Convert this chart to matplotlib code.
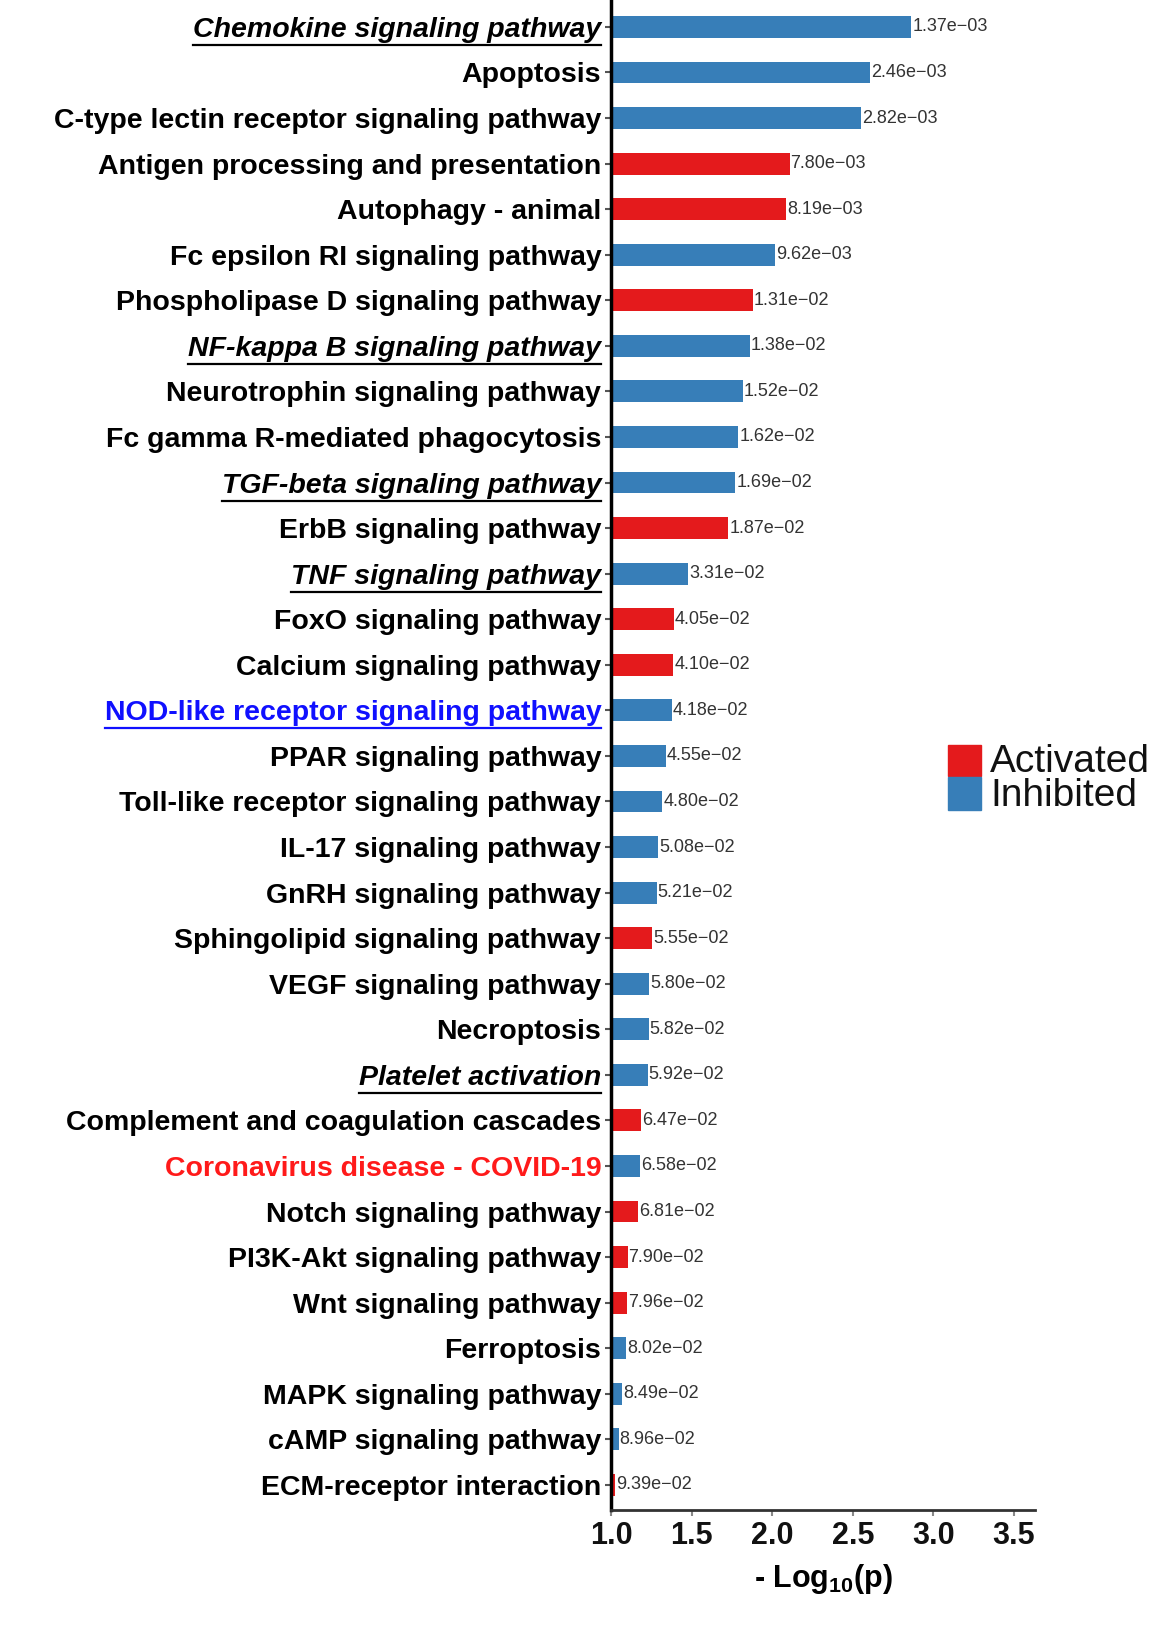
import numpy as np
import matplotlib
matplotlib.use("Agg")
import matplotlib.pyplot as plt
from matplotlib.patches import Rectangle
from matplotlib.lines import Line2D

# données (de haut en bas)
pathways = [
    "Chemokine signaling pathway", "Apoptosis",
    "C-type lectin receptor signaling pathway",
    "Antigen processing and presentation", "Autophagy - animal",
    "Fc epsilon RI signaling pathway", "Phospholipase D signaling pathway",
    "NF-kappa B signaling pathway", "Neurotrophin signaling pathway",
    "Fc gamma R-mediated phagocytosis", "TGF-beta signaling pathway",
    "ErbB signaling pathway", "TNF signaling pathway",
    "FoxO signaling pathway", "Calcium signaling pathway",
    "NOD-like receptor signaling pathway", "PPAR signaling pathway",
    "Toll-like receptor signaling pathway", "IL-17 signaling pathway",
    "GnRH signaling pathway", "Sphingolipid signaling pathway",
    "VEGF signaling pathway", "Necroptosis", "Platelet activation",
    "Complement and coagulation cascades", "Coronavirus disease - COVID-19",
    "Notch signaling pathway", "PI3K-Akt signaling pathway",
    "Wnt signaling pathway", "Ferroptosis", "MAPK signaling pathway",
    "cAMP signaling pathway", "ECM-receptor interaction",
]
pvals = [1.37e-03, 2.46e-03, 2.82e-03, 7.80e-03, 8.19e-03, 9.62e-03,
         1.31e-02, 1.38e-02, 1.52e-02, 1.62e-02, 1.69e-02, 1.87e-02,
         3.31e-02, 4.05e-02, 4.10e-02, 4.18e-02, 4.55e-02, 4.80e-02,
         5.08e-02, 5.21e-02, 5.55e-02, 5.80e-02, 5.82e-02, 5.92e-02,
         6.47e-02, 6.58e-02, 6.81e-02, 7.90e-02, 7.96e-02, 8.02e-02,
         8.49e-02, 8.96e-02, 9.39e-02]
# A = activé, I = inhibé
status = ["I", "I", "I", "A", "A", "I", "A", "I", "I", "I", "I", "A",
          "I", "A", "A", "I", "I", "I", "I", "I", "A", "I", "I", "I",
          "A", "I", "A", "A", "A", "I", "I", "I", "A"]
# libellés mis en avant (italique souligné)
highlighted = ["Chemokine signaling pathway", "NF-kappa B signaling pathway",
               "TGF-beta signaling pathway", "TNF signaling pathway",
               "Platelet activation"]

RED = "#E41A1C"
BLUE = "#377EB8"
sans = ["Liberation Sans", "DejaVu Sans"]

W, H = 1172, 1626
fig = plt.figure(figsize=(W / 100, H / 100), dpi=100)
ax = fig.add_axes([611 / W, 1 - 1510 / H, (1035 - 611) / W, 1510 / H])

neglog = -np.log10(np.array(pvals))
y = np.arange(len(pathways))
colors = [RED if s == "A" else BLUE for s in status]

ax.barh(y, neglog - 1.0, left=1.0, height=0.48, color=colors)
for yi, v, p in zip(y, neglog, pvals):
    ax.text(v + 0.005, yi, f"{p:.2e}".replace("-", "\u2212"), ha="left",
            va="center", fontsize=13, color="#333333", family=sans)

ax.set_xlim(1.0, 3.63)
ax.set_ylim(len(pathways) - 0.45, -0.59)
ax.set_xticks([1.0, 1.5, 2.0, 2.5, 3.0, 3.5])
ax.set_xticklabels(["1.0", "1.5", "2.0", "2.5", "3.0", "3.5"],
                   fontsize=22, fontweight="bold", family=sans, color="#111111")
ax.set_yticks(y)
ax.set_yticklabels(pathways, fontsize=20.5, fontweight="bold", family=sans)
ax.tick_params(axis="y", length=4, width=1.5, color="#555555", pad=3)
ax.tick_params(axis="x", length=4, width=1.5, color="#888888", pad=4)

for sp in ["top", "right"]:
    ax.spines[sp].set_visible(False)
ax.spines["left"].set_linewidth(2.5)
ax.spines["left"].set_color("black")
ax.spines["bottom"].set_linewidth(2)
ax.spines["bottom"].set_color("#333333")

ax.set_xlabel("- Log$_{\\mathregular{10}}$(p)", fontsize=22, fontweight="bold",
              family=sans, labelpad=8)

# styles particuliers des libellés
for tl in ax.get_yticklabels():
    t = tl.get_text()
    if t in highlighted:
        tl.set_style("italic")
    elif t == "NOD-like receptor signaling pathway":
        tl.set_color("#1010FF")
    elif t == "Coronavirus disease - COVID-19":
        tl.set_color("#FF1A1A")

# soulignement à la main, matplotlib ne sait pas faire
fig.canvas.draw()
renderer = fig.canvas.get_renderer()
for tl in ax.get_yticklabels():
    t = tl.get_text()
    if t in highlighted or t == "NOD-like receptor signaling pathway":
        bb = tl.get_window_extent(renderer)
        yy = (bb.y0 - 2) / H
        fig.add_artist(Line2D([bb.x0 / W, bb.x1 / W], [yy, yy],
                              color=tl.get_color(), lw=1.6))

# légende dessinée à la main
fig.add_artist(Rectangle((948 / W, 1 - 776 / H), 33 / W, 31 / H,
                         transform=fig.transFigure, color=RED))
fig.add_artist(Rectangle((948 / W, 1 - 810 / H), 33 / W, 33 / H,
                         transform=fig.transFigure, color=BLUE))
fig.text(990 / W, 1 - 762 / H, "Activated", fontsize=28, family=sans,
         va="center", ha="left", color="#111111")
fig.text(990 / W, 1 - 796 / H, "Inhibited", fontsize=28, family=sans,
         va="center", ha="left", color="#111111")

fig.savefig("out.png", dpi=100)
